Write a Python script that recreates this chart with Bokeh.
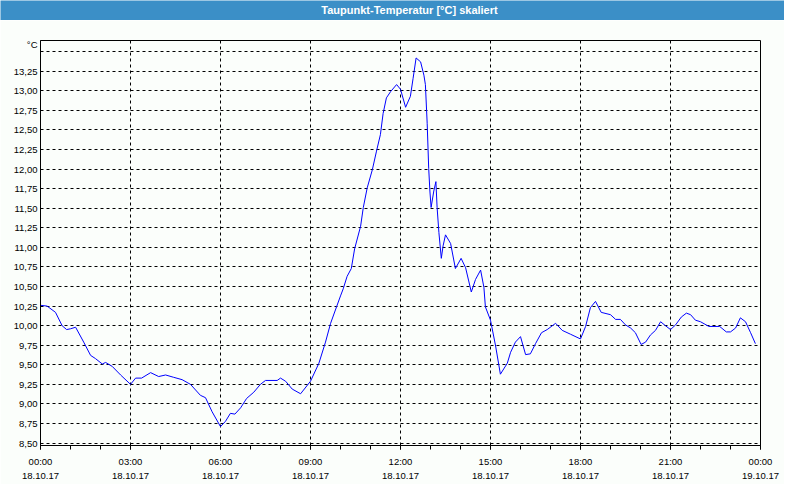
from bokeh.plotting import figure
from bokeh.models import FixedTicker, Range1d, ColumnDataSource
from bokeh.layouts import column, row
from bokeh.core.properties import value
from bokeh.embed import file_html
from bokeh.resources import INLINE

# --- data (hours after 18.10.17 00:00, dew point in °C) ---
hours = [0.0, 0.22, 0.5, 0.72, 0.87, 1.0, 1.17, 1.44, 1.67, 1.83, 2.06, 2.17, 2.39, 2.67,
         3.0, 3.17, 3.37, 3.67, 3.94, 4.17, 4.44, 4.72, 5.0, 5.33, 5.5, 5.72, 6.0, 6.17,
         6.33, 6.48, 6.67, 6.87, 7.11, 7.33, 7.5, 7.89, 8.0, 8.17, 8.39, 8.67, 9.0, 9.28,
         9.5, 9.67, 9.83, 10.0, 10.09, 10.22, 10.36, 10.47, 10.67, 10.76, 10.89, 11.06,
         11.2, 11.33, 11.42, 11.53, 11.67, 11.87, 12.0, 12.17, 12.33, 12.42, 12.52, 12.67,
         12.78, 12.83, 12.89, 12.94, 12.98, 13.02, 13.11, 13.18, 13.22, 13.28, 13.36, 13.42,
         13.5, 13.67, 13.83, 14.02, 14.17, 14.36, 14.5, 14.67, 14.78, 14.83, 15.0, 15.17,
         15.33, 15.56, 15.67, 15.83, 16.0, 16.17, 16.33, 16.5, 16.7, 16.89, 17.17, 17.39,
         17.67, 18.0, 18.17, 18.33, 18.5, 18.69, 19.0, 19.17, 19.33, 19.5, 19.67, 19.83,
         20.02, 20.17, 20.33, 20.5, 20.67, 20.83, 21.0, 21.17, 21.36, 21.53, 21.67, 21.83,
         22.0, 22.28, 22.64, 22.86, 23.0, 23.17, 23.33, 23.5, 23.67, 23.83]
dewpoint = [10.26, 10.25, 10.17, 10.00, 9.95, 9.96, 9.98, 9.79, 9.62, 9.58, 9.51, 9.53, 9.48, 9.37,
            9.25, 9.33, 9.33, 9.40, 9.35, 9.37, 9.34, 9.31, 9.25, 9.11, 9.08, 8.90, 8.71, 8.78,
            8.88, 8.87, 8.95, 9.07, 9.15, 9.25, 9.30, 9.30, 9.33, 9.29, 9.19, 9.13, 9.29, 9.52,
            9.79, 10.03, 10.20, 10.38, 10.47, 10.63, 10.73, 10.98, 11.27, 11.51, 11.76, 11.99,
            12.23, 12.44, 12.71, 12.91, 12.99, 13.08, 13.02, 12.79, 12.93, 13.16, 13.42, 13.37,
            13.20, 13.08, 12.58, 12.01, 11.72, 11.51, 11.72, 11.84, 11.51, 11.19, 10.86, 11.02,
            11.16, 11.05, 10.73, 10.86, 10.74, 10.43, 10.59, 10.71, 10.49, 10.24, 10.07, 9.74,
            9.38, 9.52, 9.66, 9.79, 9.86, 9.63, 9.64, 9.77, 9.91, 9.95, 10.03, 9.94,
            9.89, 9.83, 9.99, 10.23, 10.31, 10.17, 10.14, 10.08, 10.08, 10.01, 9.97, 9.91,
            9.76, 9.79, 9.88, 9.94, 10.05, 10.00, 9.95, 10.01, 10.11, 10.16, 10.14, 10.07,
            10.05, 9.99, 9.99, 9.92, 9.92, 9.97, 10.10, 10.05, 9.91, 9.77]

x_ticks = [0, 3, 6, 9, 12, 15, 18, 21, 24]
x_tick_labels = ["00:00\n18.10.17", "03:00\n18.10.17", "06:00\n18.10.17", "09:00\n18.10.17",
                 "12:00\n18.10.17", "15:00\n18.10.17", "18:00\n18.10.17", "21:00\n18.10.17",
                 "00:00\n19.10.17"]
y_grid = [8.5 + 0.25 * i for i in range(21)]          # 8,50 ... 13,50
y_ticks = y_grid[:-1]                                  # labelled 8,50 ... 13,25
y_tick_labels = [("%.2f" % t).replace(".", ",") for t in y_ticks]
unit_pos = 13.59
unit_text = "°C"
title_text = "Taupunkt-Temperatur [°C] skaliert"

BG = "#fbfefb"
BLUE = "#3b8fc7"
FONT = "Liberation Sans"
W = 784

# ---- title bar ----
bar = figure(width=W, height=20, output_backend="svg", toolbar_location=None,
             x_range=Range1d(0, W), y_range=Range1d(0, 20), x_axis_type=None, y_axis_type=None,
             min_border=0, background_fill_color=BLUE, border_fill_color=BLUE,
             outline_line_color=None)
bar.text(x=[409], y=[10.5], text=[title_text], text_align="center", text_baseline="middle",
         text_color="white", text_font=value(FONT), text_font_size="11px",
         text_font_style="bold")

# ---- main chart ----
p = figure(width=W, height=464, output_backend="svg", toolbar_location=None,
           x_range=Range1d(0, 24), y_range=Range1d(8.469, 13.643),
           min_border_left=40, min_border_right=24, min_border_top=20, min_border_bottom=34,
           background_fill_color=BG, border_fill_color=BG, outline_line_color="black",
           outline_line_width=1)

src = ColumnDataSource(dict(h=hours, v=dewpoint))
p.line("h", "v", source=src, line_color="#0000ff", line_width=1)

xa = p.xaxis[0]
xa.ticker = FixedTicker(ticks=x_ticks, minor_ticks=list(range(0, 25)))
xa.major_label_overrides = {t: l for t, l in zip(x_ticks, x_tick_labels)}
xa.major_tick_out = 4
xa.major_tick_in = 0
xa.minor_tick_out = 4
xa.minor_tick_in = 0
xa.major_label_standoff = 6
xa.major_label_text_font = FONT
xa.major_label_text_font_size = "9.5px"
xa.major_label_text_color = "#000000"
xa.major_label_text_line_height = 1.35
xa.axis_line_color = "black"

ya = p.yaxis[0]
ya.ticker = FixedTicker(ticks=y_ticks + [unit_pos], minor_ticks=[])
overrides = {t: l for t, l in zip(y_ticks, y_tick_labels)}
overrides[unit_pos] = unit_text
ya.major_label_overrides = overrides
ya.major_tick_out = 0
ya.major_tick_in = 0
ya.major_label_standoff = 3
ya.major_label_text_font = FONT
ya.major_label_text_font_size = "9.5px"
ya.major_label_text_color = "#000000"
ya.axis_line_color = "black"

p.xgrid.ticker = FixedTicker(ticks=x_ticks)
p.ygrid.ticker = FixedTicker(ticks=y_grid)
for g in (p.xgrid[0], p.ygrid[0]):
    g.grid_line_color = "black"
    g.grid_line_dash = "3 3"
    g.grid_line_width = 1

layout = column(row(bar), p, spacing=0)
open("out.html", "w").write(file_html(layout, INLINE))
